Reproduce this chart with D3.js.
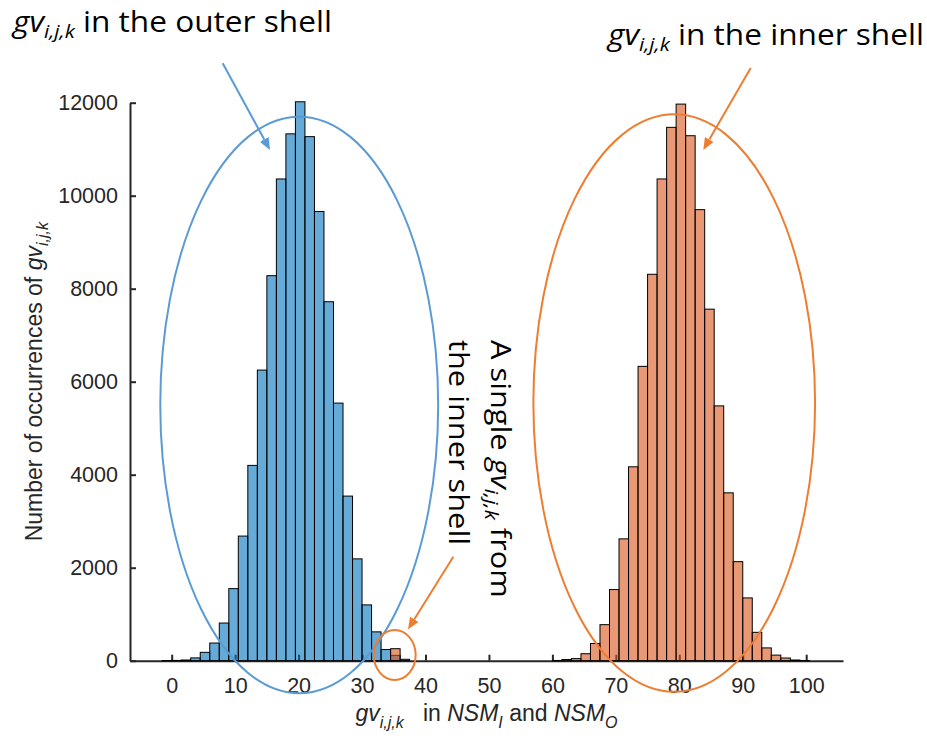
<!DOCTYPE html>
<html>
<head>
<meta charset="utf-8">
<script src="https://cdn.jsdelivr.net/npm/d3@7"></script>
<style>
  html, body { margin: 0; padding: 0; background: #fff; }
  #vis svg { display: block; }
  .tick text { font-family: "Liberation Sans", Arial, sans-serif; fill: #262626; }
  .note { font-family: "Open Sans", sans-serif; fill: #000; }
</style>
</head>
<body>
<div id="vis"></div>
<script>
// histogram data (bin width 1.5)
var binWidth = 1.5;

var outerBinStarts = [-1.5, 0, 1.5, 3, 4.5, 6, 7.5, 9, 10.5, 12, 13.5, 15, 16.5, 18,
  19.5, 21, 22.5, 24, 25.5, 27, 28.5, 30, 31.5, 33, 34.5, 36];
var outerCounts = [3, 6, 15, 60, 180, 380, 810, 1550, 2680, 4200, 6250, 8280, 10360, 11330,
  12020, 11270, 9660, 7720, 5540, 3540, 2190, 1200, 620, 240, 115, 30];

var innerBinStarts = [34.5, 60, 61.5, 63, 64.5, 66, 67.5, 69, 70.5, 72, 73.5, 75, 76.5, 78,
  79.5, 81, 82.5, 84, 85.5, 87, 88.5, 90, 91.5, 93, 94.5, 96, 97.5, 99];
var innerCounts = [258, 5, 25, 45, 150, 370, 775, 1530, 2620, 4170, 6330, 8310, 10360, 11470,
  11970, 11290, 9700, 7560, 5480, 3610, 2130, 1350, 610, 275, 120, 58, 15, 5];

var xTicks = [0, 10, 20, 30, 40, 50, 60, 70, 80, 90, 100];
var yTicks = [0, 2000, 4000, 6000, 8000, 10000, 12000];

var HistogramChartObject = function () {

  var self = this;

  var width = 927;
  var height = 741;
  var plot = { left: 130, right: 843, top: 102.7, bottom: 660.7 };

  var x = d3.scaleLinear().domain([-6.57, 105.8]).range([plot.left, plot.right]);
  var y = d3.scaleLinear().domain([0, 12000]).range([plot.bottom, plot.top]);

  var svg = null;

  var colOuter = '#0072BD';
  var colInner = '#D95319';
  var colBlueNote = '#5B9BD5';
  var colOrangeNote = '#ED7D31';

  this.init = function () {
    svg = d3.select('#vis')
        .append('svg')
        .attr('width', width)
        .attr('height', height)
        .attr('viewBox', '0 0 ' + width + ' ' + height);

    var defs = svg.append('defs');
    addMarker(defs, 'headBlue', colBlueNote);
    addMarker(defs, 'headOrange', colOrangeNote);

    self.drawAxes();
    self.drawBars(outerBinStarts, outerCounts, colOuter, 'outer');
    self.drawBars(innerBinStarts, innerCounts, colInner, 'inner');
    self.drawNotes();
  };

  this.drawAxes = function () {
    var xAxis = d3.axisBottom(x)
        .tickValues(xTicks)
        .tickSizeInner(-6)
        .tickSizeOuter(0)
        .tickPadding(17);

    var yAxis = d3.axisLeft(y)
        .tickValues(yTicks)
        .tickFormat(d3.format('d'))
        .tickSizeInner(-6)
        .tickSizeOuter(0)
        .tickPadding(12);

    var gx = svg.append('g')
        .attr('transform', 'translate(0,' + plot.bottom + ')')
        .call(xAxis);
    var gy = svg.append('g')
        .attr('transform', 'translate(' + plot.left + ',0)')
        .call(yAxis);

    [gx, gy].forEach(function (g) {
      g.select('.domain').attr('stroke', '#262626').attr('stroke-width', 2);
      g.selectAll('.tick line').attr('stroke', '#262626').attr('stroke-width', 2);
      g.selectAll('.tick text').style('font-size', '21.5px');
    });

    // y label
    var yl = svg.append('text')
        .attr('transform', 'translate(42,' + ((plot.top + plot.bottom) / 2) + ') rotate(-90)')
        .attr('text-anchor', 'middle')
        .style('font-family', '"Liberation Sans", Arial, sans-serif')
        .style('font-size', '23px')
        .attr('fill', '#262626');
    yl.append('tspan').text('Number of occurrences of ');
    yl.append('tspan').style('font-style', 'italic').text('gv');
    yl.append('tspan').style('font-style', 'italic').style('font-size', '16px').attr('dy', 6).text('i,j,k');

    // x label
    var xl = svg.append('text')
        .attr('x', (plot.left + plot.right) / 2)
        .attr('y', 721)
        .attr('text-anchor', 'middle')
        .style('font-family', '"Liberation Sans", Arial, sans-serif')
        .style('font-size', '23px')
        .attr('fill', '#262626');
    xl.append('tspan').style('font-style', 'italic').text('gv');
    xl.append('tspan').style('font-style', 'italic').style('font-size', '16px').attr('dy', 7).text('i,j,k');
    xl.append('tspan').attr('dy', -7).text('\u00a0\u00a0\u00a0in ');
    xl.append('tspan').style('font-style', 'italic').text('NSM');
    xl.append('tspan').style('font-style', 'italic').style('font-size', '16px').attr('dy', 7).text('I');
    xl.append('tspan').attr('dy', -7).text(' and ');
    xl.append('tspan').style('font-style', 'italic').text('NSM');
    xl.append('tspan').style('font-style', 'italic').style('font-size', '16px').attr('dy', 7).text('O');
  };

  this.drawBars = function (starts, counts, color, cls) {
    var data = starts.map(function (s, i) { return { x0: s, x1: s + binWidth, n: counts[i] }; });

    svg.append('g').attr('class', cls)
        .selectAll('rect')
        .data(data)
        .enter().append('rect')
        .attr('x', function (d) { return x(d.x0); })
        .attr('width', function (d) { return x(d.x1) - x(d.x0); })
        .attr('y', function (d) { return y(d.n); })
        .attr('height', function (d) { return y(0) - y(d.n); })
        .attr('fill', color)
        .attr('fill-opacity', 0.6)
        .attr('stroke', '#000')
        .attr('stroke-width', 1);
  };

  this.drawNotes = function () {
    // ellipses around the two groups (centre in data units)
    ellipse(20.1, 5500, 21.9, 6200, colBlueNote);
    ellipse(79.2, 5540, 22.2, 6210, colOrangeNote);
    ellipse(35.15, 123, 3.3, 538, colOrangeNote);

    arrow(222.7, 63.3, 270, 150, colBlueNote, 'headBlue');
    arrow(750.7, 68, 703.3, 150, colOrangeNote, 'headOrange');
    arrow(453.3, 556.7, 408, 629.5, colOrangeNote, 'headOrange');

    label(svg.append('text').attr('transform', 'translate(13,32) scale(1.09,1)'), 'in the outer shell');
    label(svg.append('text').attr('transform', 'translate(608,45) scale(1.09,1)'), 'in the inner shell');

    var t1 = svg.append('text').attr('transform', 'translate(491,340) rotate(90) scale(1.1,1)');
    t1.attr('class', 'note').style('font-size', '28px');
    t1.append('tspan').text('A single ');
    t1.append('tspan').style('font-style', 'italic').text('gv');
    t1.append('tspan').style('font-style', 'italic').style('font-size', '19px').attr('dy', 6).text('i,j,k');
    t1.append('tspan').attr('dy', -6).text(' from');

    svg.append('text').attr('transform', 'translate(449,340) rotate(90) scale(1.1,1)')
        .attr('class', 'note').style('font-size', '28px')
        .text('the inner shell');
  };

  // helpers
  function label(t, rest) {
    t.attr('class', 'note').style('font-size', '29px');
    t.append('tspan').style('font-style', 'italic').text('gv');
    t.append('tspan').style('font-style', 'italic').style('font-size', '19px').attr('dy', 6).text('i,j,k');
    t.append('tspan').attr('dy', -6).text(' ' + rest);
  }

  function ellipse(cx, cy, rx, ry, color) {
    svg.append('ellipse')
        .attr('cx', x(cx))
        .attr('cy', y(cy))
        .attr('rx', x(cx + rx) - x(cx))
        .attr('ry', y(0) - y(ry))
        .attr('fill', 'none')
        .attr('stroke', color)
        .attr('stroke-width', 2);
  }

  function arrow(x1, y1, x2, y2, color, head) {
    // shorten the line so the marker tip lands on (x2,y2)
    var dx = x2 - x1, dy = y2 - y1;
    var len = Math.sqrt(dx * dx + dy * dy);
    var k = (len - 12) / len;
    svg.append('line')
        .attr('x1', x1).attr('y1', y1)
        .attr('x2', x1 + dx * k).attr('y2', y1 + dy * k)
        .attr('stroke', color)
        .attr('stroke-width', 2)
        .attr('marker-end', 'url(#' + head + ')');
  }

  function addMarker(defs, id, color) {
    defs.append('marker')
        .attr('id', id)
        .attr('viewBox', '0 0 12 10')
        .attr('refX', 0)
        .attr('refY', 5)
        .attr('markerUnits', 'userSpaceOnUse')
        .attr('markerWidth', 12)
        .attr('markerHeight', 10)
        .attr('orient', 'auto')
        .append('path')
        .attr('d', 'M0,0 L12,5 L0,10 Z')
        .attr('fill', color);
  }

  this.init.apply(this, arguments);
};

new HistogramChartObject();
</script>
</body>
</html>
